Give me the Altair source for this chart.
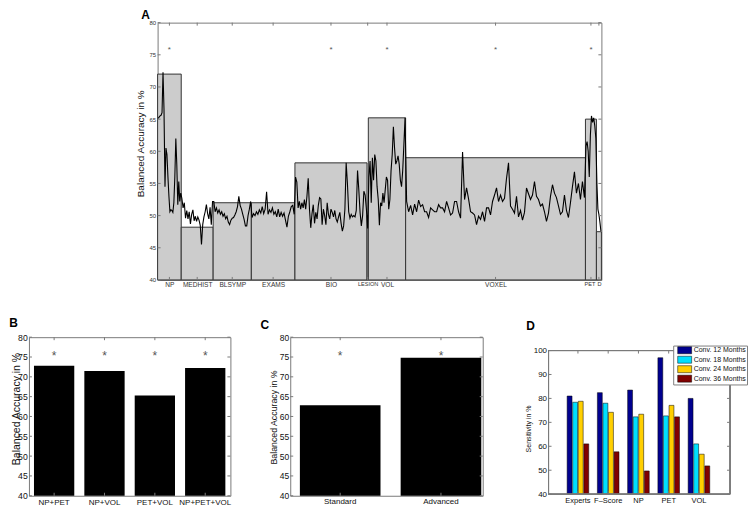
import json
import altair as alt
import pandas as pd

FONT = "Liberation Sans"
FRAME = "#7a7a7a"

# ---------------- Panel A data ----------------
seg_names = ["NP", "MEDHIST", "BLSYMP", "EXAMS", "BIO", "LESION", "VOL", "VOXEL", "PET", "D"]
seg_start = [0, 23.7, 55.7, 94, 137.7, 210, 211.3, 248.7, 429, 440]
seg_end = [23.7, 55.7, 94, 137.7, 210, 211.3, 248.7, 429, 440, 445]
seg_acc = [72.0, 48.2, 52.0, 52.0, 58.2, 50.0, 65.2, 59.0, 65.0, 47.5]
seg_star = [True, False, False, False, True, False, True, True, True, False]
star_level = 76

np_curve = [65.1, 65.3, 65.5, 65.6, 66.0, 72.3, 66.5, 54.5, 60.5, 59.5, 56.0, 53.0,
            50.6, 50.9, 50.8, 50.5, 52.0, 56.0, 62.0, 57.9, 51.7, 55.3, 52.2, 53.5]
medhist_curve = [52.7, 51.2, 52.0, 49.6, 50.8, 49.5, 50.6, 48.7, 50.2, 50.9, 49.2, 49.9,
                 49.1, 49.8, 49.3, 48.5, 45.5, 48.6, 49.8, 50.6, 51.7, 50.3, 49.5, 51.3,
                 48.6, 52.2]
blsymp_curve = [52.2, 50.6, 51.2, 50.4, 50.9, 50.2, 50.6, 49.9, 50.3, 49.5, 49.9, 49.0,
                48.6, 49.3, 49.6, 49.7, 50.1, 50.6, 51.4, 53.0, 51.6, 51.0, 50.2, 49.4,
                48.4, 48.4, 50.0, 51.0, 52.2]
exams_curve = [49.7, 50.3, 50.0, 50.6, 50.2, 50.9, 50.4, 51.4, 50.3, 51.0, 53.7, 50.2,
               50.9, 50.5, 51.2, 50.2, 50.6, 49.8, 51.0, 49.8, 50.5, 49.9, 50.4, 49.3,
               48.2, 49.9, 50.6, 51.4, 51.6, 50.2]
bio_curve = [56.0, 55.2, 51.2, 52.2, 51.0, 52.0, 51.2, 52.5, 51.0, 53.0, 55.8, 51.0,
             48.1, 50.3, 51.7, 48.8, 50.5, 49.5, 51.6, 52.8, 52.6, 48.6, 51.0, 50.0,
             48.6, 52.0, 50.2, 49.5, 51.0, 50.5, 49.8, 50.8, 49.5, 49.0, 49.8, 50.5,
             48.8, 47.6, 48.4, 51.0, 58.2, 55.0, 50.6, 49.6, 50.2, 49.8, 50.0, 49.8,
             50.8, 57.0, 54.0, 50.5, 48.4, 50.0, 53.8, 53.2, 51.0]
lesion_curve = [48.0]
vol_curve = [56.0, 58.5, 52.0, 59.0, 55.5, 59.5, 58.5, 54.5, 52.5, 48.5, 52.0, 51.5,
             53.5, 52.0, 54.0, 56.0, 55.5, 51.0, 52.5, 57.0, 59.5, 63.8, 60.5, 58.0,
             58.5, 59.3, 58.0, 55.5, 54.5, 57.0, 61.0, 65.2]
voxel_curve = [52.2, 50.6, 51.6, 50.1, 51.8, 50.6, 52.4, 51.4, 51.7, 50.6, 50.6, 49.7,
               51.2, 50.9, 50.6, 50.6, 51.7, 51.2, 51.2, 50.6, 52.2, 51.2, 50.1, 50.4,
               52.2, 52.2, 50.6, 49.6, 59.9, 52.5, 54.3, 52.6, 50.6, 50.4, 50.1, 48.6,
               49.9, 49.4, 50.6, 49.1, 51.2, 51.2, 50.1, 52.2, 53.2, 54.3, 52.2, 53.2,
               52.2, 52.7, 55.8, 58.2, 51.5, 51.0, 50.4, 53.0, 49.8, 50.8, 49.3, 50.5,
               54.3, 53.4, 52.5, 53.2, 55.3, 53.0, 52.5, 51.5, 51.8, 50.6, 49.1, 50.4,
               53.0, 54.8, 53.5, 52.8, 51.5, 50.2, 50.6, 53.2, 50.8, 49.7, 52.0, 54.5,
               56.8, 53.5, 55.0, 52.5, 55.3, 52.8]
pet_curve = [60.8, 61.5, 60.0, 56.0, 62.5, 65.5, 64.5, 65.2, 64.0, 62.0]
demog_curve = [55.0, 51.0, 50.2, 49.0, 47.6]
curves = [np_curve, medhist_curve, blsymp_curve, exams_curve, bio_curve,
          lesion_curve, vol_curve, voxel_curve, pet_curve, demog_curve]

y_ticks_a = [40, 45, 50, 55, 60, 65, 70, 75, 80]

# ---------------- Panel B / C data ----------------
b_cats = ["NP+PET", "NP+VOL", "PET+VOL", "NP+PET+VOL"]
b_vals = [72.8, 71.5, 65.3, 72.2]
c_cats = ["Standard", "Advanced"]
c_vals = [62.8, 74.8]
bc_ticks = [40, 45, 50, 55, 60, 65, 70, 75, 80]

# ---------------- Panel D data ----------------
d_groups = ["Experts", "F\u2013Score", "NP", "PET", "VOL"]
d_series = ["Conv. 12 Months", "Conv. 18 Months", "Conv. 24 Months", "Conv. 36 Months"]
d_12 = [81.0, 82.4, 83.5, 97.0, 80.0]
d_18 = [78.4, 78.0, 72.3, 72.7, 61.0]
d_24 = [78.8, 74.2, 73.4, 77.1, 56.7]
d_36 = [61.0, 57.7, 49.7, 72.3, 51.8]
d_colors = ["#00008f", "#00dfff", "#ffcf00", "#800000"]
d_ticks = [40, 50, 60, 70, 80, 90, 100]

# ================= build tables =================
centers = [round((s + e) / 2, 3) for s, e in zip(seg_start, seg_end)]
seg_df = pd.DataFrame({"name": seg_names, "start": seg_start, "end": seg_end,
                       "acc": seg_acc, "center": centers, "star": seg_star})
star_a = seg_df[seg_df["star"]].assign(sy=star_level)
rows = []
for s, e, vals in zip(seg_start, seg_end, curves):
    n = len(vals)
    for i, v in enumerate(vals):
        rows.append({"f": s + (i + 0.5) * (e - s) / n, "acc": v})
curve_df = pd.DataFrame(rows)
center_df = pd.DataFrame({"c": centers})


def yticks_df(vals):
    return pd.DataFrame({"t": vals})


def tick_layers(xenc_df, xfield, xscale, xaxis, ydf, yscale, yaxis, W, H, top=0, L=3):
    col = FRAME
    ly = []
    ly.append(alt.Chart(ydf).mark_rule(color=col, strokeWidth=1).encode(
        y=alt.Y("t:Q", scale=yscale, axis=yaxis), x=alt.value(0), x2=alt.value(L)))
    ly.append(alt.Chart(ydf).mark_rule(color=col, strokeWidth=1).encode(
        y=alt.Y("t:Q", scale=yscale, axis=yaxis), x=alt.value(W - L), x2=alt.value(W)))
    ly.append(alt.Chart(xenc_df).mark_rule(color=col, strokeWidth=1).encode(
        x=alt.X(xfield, scale=xscale, axis=xaxis), y=alt.value(H), y2=alt.value(H - L)))
    ly.append(alt.Chart(xenc_df).mark_rule(color=col, strokeWidth=1).encode(
        x=alt.X(xfield, scale=xscale, axis=xaxis), y=alt.value(top), y2=alt.value(top + L)))
    return ly


def ptitle(letter, dx, offset):
    return alt.TitleParams(text=letter, anchor="start", frame="group", dx=dx,
                           offset=offset, fontSize=12, fontWeight="bold",
                           font=FONT, color="black")


# ================= Panel A =================
WA, HA = 445, 258
xA = alt.Scale(domain=[0, 445], nice=False, zero=False)
yA = alt.Scale(domain=[40, 80], nice=False, zero=False)
label_expr = (json.dumps(seg_names).replace('"', "'") + "[indexof(" +
              json.dumps(centers) + ", datum.value)]")
small_labels = "indexof(%s, datum.value) >= 0" % json.dumps(
    [centers[5], centers[8], centers[9]])
axA_x = alt.Axis(values=centers, labelExpr=label_expr, title=None,
                 labelFontSize={"condition": {"test": small_labels, "value": 5.6},
                                "value": 6.6},
                 labelOffset={"condition": {"test": "datum.value == %s" % centers[8],
                                            "value": -1.5}, "value": 0},
                 labelPadding=2, labelOverlap=False, labelFlush=False, labelColor="#333333")
axA_y = alt.Axis(values=y_ticks_a, title="Balanced Accuracy in %", titleFontSize=10,
                 titleX=-12.5, titleY=121, labelFontSize=6, labelPadding=2,
                 labelFlush=False, labelOverlap=False, labelColor="#333333")

bars_a = alt.Chart(seg_df).mark_rect(fill="#cccccc", stroke="#333333", strokeWidth=1).encode(
    x=alt.X("start:Q", scale=xA, axis=axA_x),
    x2="end:Q",
    y=alt.Y("acc:Q", scale=yA, axis=axA_y),
    y2=alt.datum(40),
)
line_a = alt.Chart(curve_df).mark_line(color="black", strokeWidth=1.1).encode(
    x=alt.X("f:Q", scale=xA, axis=axA_x), y=alt.Y("acc:Q", scale=yA, axis=axA_y))
stars_a_l = alt.Chart(star_a).mark_text(text="*", fontSize=8, color="#555555", dy=2).encode(
    x=alt.X("center:Q", scale=xA, axis=axA_x), y=alt.Y("sy:Q", scale=yA, axis=axA_y))
panel_a = alt.layer(bars_a, line_a, stars_a_l,
                    *tick_layers(center_df, "c:Q", xA, axA_x, yticks_df(y_ticks_a), yA,
                                 axA_y, WA, HA)
                    ).properties(width=WA, height=HA, title=ptitle("A", -16.3, -2.8))

# ================= Panel B =================
WB, HB = 202, 159
yBC = alt.Scale(domain=[40, 80], nice=False, zero=False)
xB = alt.Scale(domain=b_cats, paddingInner=0.2, paddingOuter=0.1)
axB_x = alt.Axis(title=None, labelAngle=0, labelFontSize=8, labelPadding=2.5,
                 labelColor="#111")
axB_y = alt.Axis(values=bc_ticks, title="Balanced Accuracy in %", titleFontSize=10.5,
                 titleX=-7.5, titleY=71.5, labelFontSize=8.7, labelPadding=1.7,
                 labelFlush=False, labelOverlap=False, labelColor="#111")
b_df = pd.DataFrame({"combo": b_cats, "acc": b_vals, "sy": [star_level] * len(b_cats)})
bars_b = alt.Chart(b_df).mark_bar(color="black").encode(
    x=alt.X("combo:N", scale=xB, sort=b_cats, axis=axB_x),
    y=alt.Y("acc:Q", scale=yBC, axis=axB_y),
    y2=alt.datum(40),
)
stars_b = alt.Chart(b_df).mark_text(text="*", fontSize=12, color="#555555", dy=3).encode(
    x=alt.X("combo:N", scale=xB, sort=b_cats, axis=axB_x),
    y=alt.Y("sy:Q", scale=yBC, axis=axB_y))
panel_b = alt.layer(bars_b, stars_b,
                    *tick_layers(b_df, "combo:N", xB, axB_x, yticks_df(bc_ticks), yBC,
                                 axB_y, WB, HB)
                    ).properties(width=WB, height=HB, title=ptitle("B", -19.7, 2.8))

# ================= Panel C =================
WC, HC = 193, 159
xC = alt.Scale(domain=c_cats, paddingInner=0.2, paddingOuter=0.055, align=0.87)
axC_x = alt.Axis(title=None, labelAngle=0, labelFontSize=8, labelPadding=1.5,
                 labelColor="#111")
axC_y = alt.Axis(values=bc_ticks, title="Balanced Accuracy in %", titleFontSize=8.8,
                 titleX=-12, titleY=80, labelFontSize=8.5, labelPadding=1.6,
                 labelFlush=False, labelOverlap=False, labelColor="#111")
c_df = pd.DataFrame({"method": c_cats, "acc": c_vals, "sy": [star_level] * len(c_cats)})
bars_c = alt.Chart(c_df).mark_bar(color="black").encode(
    x=alt.X("method:N", scale=xC, sort=c_cats, axis=axC_x),
    y=alt.Y("acc:Q", scale=yBC, axis=axC_y),
    y2=alt.datum(40),
)
stars_c = alt.Chart(c_df).mark_text(text="*", fontSize=12, color="#555555", dy=3).encode(
    x=alt.X("method:N", scale=xC, sort=c_cats, axis=axC_x),
    y=alt.Y("sy:Q", scale=yBC, axis=axC_y))
panel_c = alt.layer(bars_c, stars_c,
                    *tick_layers(c_df, "method:N", xC, axC_x, yticks_df(bc_ticks), yBC,
                                 axC_y, WC, HC)
                    ).properties(width=WC, height=HC, title=ptitle("C", -29.8, 1.35))

# ================= Panel D =================
WD, HD = 182, 144
D_TOP = 13.4  # plot frame sits lower than in B and C
d_rows = []
for gi, g in enumerate(d_groups):
    for s, vals in zip(d_series, [d_12, d_18, d_24, d_36]):
        d_rows.append({"grp": g, "series": s, "sens": vals[gi]})
d_df = pd.DataFrame(d_rows)
grp_df = pd.DataFrame({"grp": d_groups})
xD = alt.Scale(domain=d_groups, paddingInner=0.286, paddingOuter=0.643, align=0.478)
yD = alt.Scale(domain=[40, 100], nice=False, zero=False, range=[HD + D_TOP, D_TOP])
axD_x = alt.Axis(title=None, labelAngle=0, labelFontSize=7.5, labelPadding=2.5,
                 labelColor="#111")
axD_y = alt.Axis(values=d_ticks, title="Sensitivity in %", titleFontSize=7,
                 titleX=-17, titleY=91.5, labelFontSize=8, labelPadding=2,
                 labelFlush=False, labelOverlap=False, labelColor="#111")
bars_d = alt.Chart(d_df).mark_bar(stroke="black", strokeWidth=0.5).encode(
    x=alt.X("grp:N", scale=xD, sort=d_groups, axis=axD_x),
    xOffset=alt.XOffset("series:N", sort=d_series,
                        scale=alt.Scale(domain=d_series, paddingInner=0.12, paddingOuter=0)),
    y=alt.Y("sens:Q", scale=yD, axis=axD_y),
    y2=alt.datum(40),
    color=alt.Color("series:N", scale=alt.Scale(domain=d_series, range=d_colors),
                    legend=alt.Legend(
                        title=None, orient="none", legendX=125, legendY=D_TOP - 5,
                        fillColor="white", strokeColor="#808080", padding=0.7,
                        symbolType="M-2,-1H2V1H-2Z", symbolSize=49,
                        symbolStrokeColor="black", symbolStrokeWidth=0.5,
                        symbolOffset=6.8, labelOffset=5, labelFontSize=7.0,
                        labelFont=FONT, labelColor="#111", rowPadding=-0.5)),
)
frame_d = alt.Chart(grp_df).mark_rect(fillOpacity=0, stroke=FRAME, strokeWidth=1).encode(
    x=alt.value(0), x2=alt.value(WD),
    y=alt.YDatum(100, scale=yD, axis=axD_y), y2=alt.datum(40))
panel_d = alt.layer(bars_d, frame_d,
                    *tick_layers(grp_df, "grp:N", xD, axD_x, yticks_df(d_ticks), yD, axD_y,
                                 WD, HD + D_TOP, top=D_TOP)
                    ).properties(width=WD, height=HD + D_TOP, title=ptitle("D", -22.3, 4.6),
                                 view=alt.ViewBackground(strokeOpacity=0))


def spacer(w):
    return alt.Chart(pd.DataFrame({"z": [0]})).mark_rect(opacity=0).encode(
        x=alt.value(0), x2=alt.value(1), y=alt.value(0), y2=alt.value(1)
    ).properties(width=w, height=1, view=alt.ViewBackground(strokeOpacity=0))


top_row = alt.hconcat(spacer(106), panel_a, spacing=0)
bottom_row = alt.hconcat(panel_b, spacer(27.3), panel_c, spacer(40.3), panel_d,
                         spacing=0).resolve_legend(color="independent")

chart = alt.vconcat(top_row, bottom_row, spacing=26.4, padding=0).resolve_legend(
    color="independent"
).configure(font=FONT).configure_view(stroke=FRAME, strokeWidth=1).configure_axis(
    grid=False, domain=False, ticks=False, labelFont=FONT, titleFont=FONT,
    titleColor="#111", titleFontWeight="normal"
)

chart.save("out.html", embed_options={"renderer": "svg", "actions": False})
